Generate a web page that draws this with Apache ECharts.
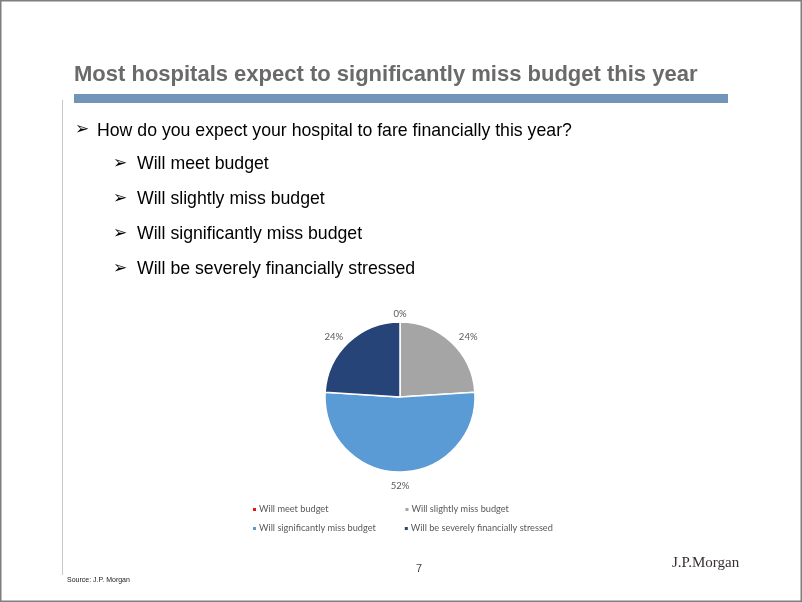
<!DOCTYPE html>
<html><head><meta charset="utf-8">
<script src="https://cdn.jsdelivr.net/npm/echarts@6/dist/echarts.min.js"></script>
<style>html,body{margin:0;padding:0;background:#fff}#c{width:802px;height:602px}</style>
</head><body><div id="c"></div>
<script>
const titleText = 'Most hospitals expect to significantly miss budget this year';
const question = 'How do you expect your hospital to fare financially this year?';
const categories = ['Will meet budget','Will slightly miss budget','Will significantly miss budget','Will be severely financially stressed'];
const values = [0, 24, 52, 24];
const colors = ['#e8141b','#a5a5a5','#5b9bd5','#264478'];

const chart = echarts.init(document.getElementById('c'), null, {renderer:'canvas'});
const pieCenter = [400, 397];
const bulletY = [165, 200, 235, 270];
const graphics = [
  {type:'rect', shape:{x:0.75,y:0.75,width:800.5,height:600.5}, style:{fill:'none',stroke:'#7f7f7f',lineWidth:1.5}, silent:true},
  {type:'line', shape:{x1:62.5,y1:100,x2:62.5,y2:575}, style:{stroke:'#c8c8c8',lineWidth:1}},
  {type:'text', left:74, top:64, style:{text:titleText, font:'bold 22px "Liberation Sans", Arial, sans-serif', fill:'#6a6a6a'}},
  {type:'rect', shape:{x:74,y:94,width:654,height:9}, style:{fill:'#7194b9'}},
  {type:'text', left:75, top:121, style:{text:'➢', font:'17px "DejaVu Sans"', fill:'#000'}},
  {type:'text', left:97, top:122, style:{text:question, font:'17.7px "Liberation Sans", Arial, sans-serif', fill:'#000'}},
  {type:'text', left:416, top:563, style:{text:'7', font:'11px "Liberation Sans", Arial', fill:'#444'}},
  {type:'text', left:672, top:556, style:{text:'J.P.Morgan', font:'15px "Liberation Serif", serif', fill:'#3a3030'}},
  {type:'text', left:67, top:577, style:{text:'Source: J.P. Morgan', font:'7px "Liberation Sans", Arial', fill:'#222'}}
];
categories.forEach((c,i)=>{
  graphics.push({type:'text', left:113, top:bulletY[i]-10, style:{text:'➢', font:'17px "DejaVu Sans"', fill:'#000'}});
  graphics.push({type:'text', left:137, top:bulletY[i]-10, style:{text:c, font:'17.7px "Liberation Sans", Arial, sans-serif', fill:'#000'}});
});

const legendText = {fontSize:9.2, color:'#595959', fontFamily:'Lato, sans-serif', padding:[0,0,0,-3]};
chart.setOption({
  animation:false,
  color: colors,
  graphic: graphics,
  legend: [
    {data:[categories[0],categories[1]], left:251, top:505, padding:0, itemWidth:5, itemHeight:5, itemGap:75, icon:'rect', textStyle:legendText},
    {data:[categories[2],categories[3]], left:251, top:524, padding:0, itemWidth:5, itemHeight:5, itemGap:27, icon:'rect', textStyle:legendText}
  ],
  series:[{
    type:'pie', center:pieCenter, radius:75, startAngle:90, clockwise:true,
    minShowLabelAngle:0, avoidLabelOverlap:false,
    itemStyle:{borderColor:'#fff', borderWidth:1.5},
    label:{show:true, position:'outside', formatter:'{d}%', fontSize:9.5, color:'#595959', fontFamily:'Lato, sans-serif',
           edgeDistance:0, distanceToLabelLine:0},
    labelLine:{show:false, length:11, length2:0},
    labelLayout: function (p) {
      const r = p.labelRect;
      const anchorX = p.align === 'right' ? r.x + r.width : r.x;
      if (Math.abs(anchorX - pieCenter[0]) < 12) {
        return {align:'center', dy:3};
      }
      return {dy:3, dx: p.align === 'right' ? 2 : 0};
    },
    data: categories.map((c,i)=>({name:c, value:values[i]}))
  }]
});
</script></body></html>
